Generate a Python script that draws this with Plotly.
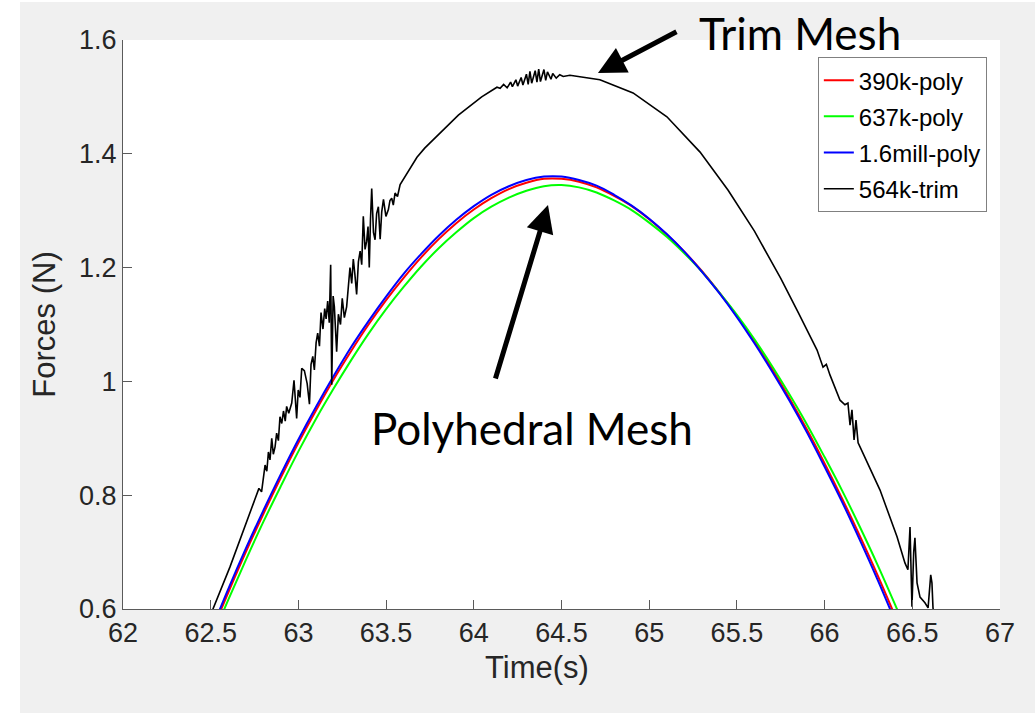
import plotly.graph_objects as go

# ---- data -------------------------------------------------------------
t_poly = [62.5, 62.6, 62.7, 62.8, 62.9, 63.0, 63.1, 63.2, 63.3, 63.4, 63.5,
          63.6, 63.7, 63.8, 63.9, 64.0, 64.1, 64.2, 64.3, 64.4, 64.5, 64.6,
          64.7, 64.8, 64.9, 65.0, 65.1, 65.2, 65.3, 65.4, 65.5, 65.6, 65.7,
          65.8, 65.9, 66.0, 66.1, 66.2, 66.3, 66.4, 66.5]

f_390k = [0.555, 0.629, 0.700, 0.767, 0.831, 0.892, 0.949, 1.003, 1.053, 1.100, 1.143,
          1.182, 1.218, 1.250, 1.278, 1.302, 1.322, 1.338, 1.349, 1.356, 1.356, 1.351,
          1.341, 1.326, 1.308, 1.285, 1.258, 1.228, 1.194, 1.156, 1.115, 1.070, 1.022,
          0.970, 0.915, 0.856, 0.794, 0.729, 0.661, 0.589, 0.514]

f_637k = [0.543, 0.616, 0.686, 0.753, 0.816, 0.877, 0.934, 0.987, 1.037, 1.084, 1.127,
          1.166, 1.202, 1.234, 1.262, 1.287, 1.307, 1.323, 1.335, 1.343, 1.345, 1.341,
          1.332, 1.318, 1.301, 1.279, 1.254, 1.225, 1.193, 1.156, 1.117, 1.074, 1.027,
          0.977, 0.924, 0.867, 0.808, 0.745, 0.679, 0.609, 0.537]

f_1_6m = [0.560, 0.635, 0.706, 0.773, 0.837, 0.898, 0.955, 1.009, 1.060, 1.106, 1.149,
          1.189, 1.224, 1.256, 1.284, 1.308, 1.328, 1.343, 1.354, 1.360, 1.360, 1.354,
          1.344, 1.328, 1.309, 1.286, 1.259, 1.228, 1.193, 1.155, 1.113, 1.067, 1.018,
          0.966, 0.910, 0.850, 0.788, 0.722, 0.653, 0.580, 0.504]

t_trim = [62.450, 62.513, 62.610, 62.707, 62.760, 62.775, 62.790, 62.810, 62.820, 62.829,
          62.838, 62.848, 62.857, 62.867, 62.876, 62.886, 62.895, 62.905, 62.915, 62.925,
          62.933, 62.945, 62.962, 62.975, 62.990, 62.999, 63.009, 63.019, 63.034, 63.050,
          63.063, 63.072, 63.082, 63.091, 63.101, 63.110, 63.120, 63.129, 63.140, 63.150,
          63.158, 63.167, 63.176, 63.184, 63.190, 63.198, 63.205, 63.218, 63.228, 63.240,
          63.250, 63.262, 63.275, 63.285, 63.294, 63.304, 63.313, 63.322, 63.332, 63.342,
          63.352, 63.361, 63.370, 63.380, 63.389, 63.397, 63.404, 63.411, 63.418, 63.428,
          63.437, 63.446, 63.456, 63.466, 63.475, 63.485, 63.499, 63.513, 63.522, 63.532,
          63.541, 63.551, 63.565, 63.580, 63.630, 63.676, 63.720, 63.767, 63.815, 63.864,
          63.912, 63.961, 64.045, 64.132,
          64.150, 64.170, 64.190, 64.210, 64.220, 64.240, 64.250, 64.270, 64.280, 64.300,
          64.310, 64.320, 64.330, 64.350, 64.360, 64.370, 64.380, 64.400, 64.410, 64.420,
          64.440, 64.450, 64.470, 64.490, 64.510, 64.548, 64.719, 64.908, 65.101, 65.290,
          65.450, 65.600, 65.750, 65.850, 65.957, 65.991, 66.010, 66.031, 66.088, 66.116,
          66.133, 66.145, 66.156, 66.168, 66.179, 66.191, 66.202, 66.316, 66.413, 66.458,
          66.475, 66.487, 66.498, 66.508, 66.515, 66.527, 66.544, 66.572, 66.590, 66.605,
          66.612, 66.618, 66.640]

f_trim = [0.500, 0.600, 0.674, 0.756, 0.800, 0.812, 0.806, 0.853, 0.842, 0.876,
          0.862, 0.900, 0.872, 0.885, 0.909, 0.896, 0.938, 0.926, 0.948, 0.930,
          0.956, 0.944, 0.962, 1.002, 0.935, 0.985, 0.972, 1.023, 1.019, 0.996,
          0.960, 1.030, 1.044, 1.020, 1.068, 1.085, 1.062, 1.121, 1.092, 1.128,
          1.110, 1.141, 1.103, 1.205, 0.994, 1.150, 1.131, 1.052, 1.118, 1.100,
          1.146, 1.112, 1.131, 1.168, 1.200, 1.172, 1.215, 1.188, 1.153, 1.210,
          1.229, 1.205, 1.290, 1.232, 1.246, 1.272, 1.200, 1.285, 1.339, 1.262,
          1.249, 1.295, 1.307, 1.250, 1.298, 1.320, 1.290, 1.302, 1.318, 1.322,
          1.310, 1.331, 1.325, 1.346, 1.372, 1.394, 1.410, 1.424, 1.440, 1.454,
          1.468, 1.480, 1.500, 1.517,
          1.515, 1.522, 1.516, 1.526, 1.518, 1.530, 1.519, 1.534, 1.521, 1.540,
          1.522, 1.545, 1.524, 1.546, 1.526, 1.549, 1.527, 1.548, 1.529, 1.544,
          1.531, 1.541, 1.533, 1.539, 1.536, 1.538, 1.530, 1.507, 1.465, 1.403,
          1.336, 1.264, 1.181, 1.121, 1.055, 1.025, 1.030, 1.011, 0.967, 0.959,
          0.962, 0.923, 0.950, 0.897, 0.932, 0.892, 0.885, 0.809, 0.727, 0.681,
          0.669, 0.744, 0.604, 0.700, 0.725, 0.646, 0.621, 0.611, 0.602, 0.660,
          0.646, 0.602, 0.550]

x_ticks = [62, 62.5, 63, 63.5, 64, 64.5, 65, 65.5, 66, 66.5, 67]
x_tick_text = ["62", "62.5", "63", "63.5", "64", "64.5", "65", "65.5", "66", "66.5", "67"]
y_ticks = [0.6, 0.8, 1.0, 1.2, 1.4, 1.6]
y_tick_text = ["0.6", "0.8", "1", "1.2", "1.4", "1.6"]

# ---- styling ----------------------------------------------------------
AX_FONT = "Liberation Sans, Arial, Helvetica, sans-serif"
NOTE_FONT = "Lato, Open Sans, sans-serif"
INK = "#262626"

fig = go.Figure()
series = [
    ("390k-poly", t_poly, f_390k, "#ff0000", 2),
    ("637k-poly", t_poly, f_637k, "#00ff00", 2),
    ("1.6mill-poly", t_poly, f_1_6m, "#0000ff", 2),
    ("564k-trim", t_trim, f_trim, "#000000", 1.6),
]
for name, xs, ys, col, w in series:
    fig.add_trace(go.Scatter(
        x=xs, y=ys, name=name, mode="lines", legendgroup=name,
        line=dict(color=col, width=w, shape="spline" if "poly" in name else "linear"),
    ))

axis_common = dict(
    showline=True, linecolor="#5a5a5a", linewidth=1, mirror=False,
    ticks="inside", ticklen=9, tickwidth=1, tickcolor="#5a5a5a",
    showgrid=False, zeroline=False,
    tickfont=dict(family=AX_FONT, size=27, color=INK),
)
fig.update_xaxes(range=[62, 67], tickvals=x_ticks, ticktext=x_tick_text, **axis_common)
fig.update_yaxes(
    range=[0.6, 1.6], tickvals=y_ticks, ticktext=y_tick_text,
    title=dict(text="Forces (N)", font=dict(family=AX_FONT, size=31, color=INK), standoff=14),
    **axis_common,
)

fig.update_layout(
    width=1035, height=713,
    margin=dict(l=123, r=35, t=40, b=104),
    paper_bgcolor="#f0f0f0", plot_bgcolor="#ffffff",
    showlegend=True,
    legend=dict(
        x=0.985, y=0.970, xanchor="right", yanchor="top",
        bgcolor="#ffffff", bordercolor="#808080", borderwidth=1,
        font=dict(family=AX_FONT, size=24, color="#000000"),
        tracegroupgap=2,
    ),
)

# x-axis label, set slightly left of the plot centre
fig.add_annotation(x=(537 - 123) / 877, y=-(667 - 609) / 569, xref="paper", yref="paper",
                   text="Time(s)", showarrow=False, xanchor="center", yanchor="middle",
                   font=dict(family=AX_FONT, size=31, color=INK))

# white strips along the left and top edge of the figure
fig.add_shape(type="rect", xref="paper", yref="paper",
              x0=-123 / 877, x1=-103 / 877, y0=-104 / 569, y1=1 + 40 / 569,
              fillcolor="#ffffff", line_width=0, layer="below")
fig.add_shape(type="rect", xref="paper", yref="paper",
              x0=-123 / 877, x1=1 + 35 / 877, y0=1 + 38 / 569, y1=1 + 40 / 569,
              fillcolor="#ffffff", line_width=0, layer="below")

# callouts
fig.add_annotation(x=64.708, y=1.542, xref="x", yref="y", text="",
                   showarrow=True, ax=80, ay=-42, arrowhead=2, arrowsize=1.1,
                   arrowwidth=5, arrowcolor="#000000")
fig.add_annotation(x=64.423, y=1.310, xref="x", yref="y", text="",
                   showarrow=True, ax=-53, ay=175, arrowhead=2, arrowsize=1.1,
                   arrowwidth=5, arrowcolor="#000000")
fig.add_annotation(x=(800 - 123) / 877, y=1 + 7 / 569, xref="paper", yref="paper",
                   text="Trim Mesh", showarrow=False, xanchor="center", yanchor="middle",
                   font=dict(family=NOTE_FONT, size=44, color="#000000"))
fig.add_annotation(x=64.332, y=0.918, xref="x", yref="y", text="Polyhedral Mesh",
                   showarrow=False, xanchor="center", yanchor="middle",
                   font=dict(family=NOTE_FONT, size=44, color="#000000"))

fig.write_html("out.html")
